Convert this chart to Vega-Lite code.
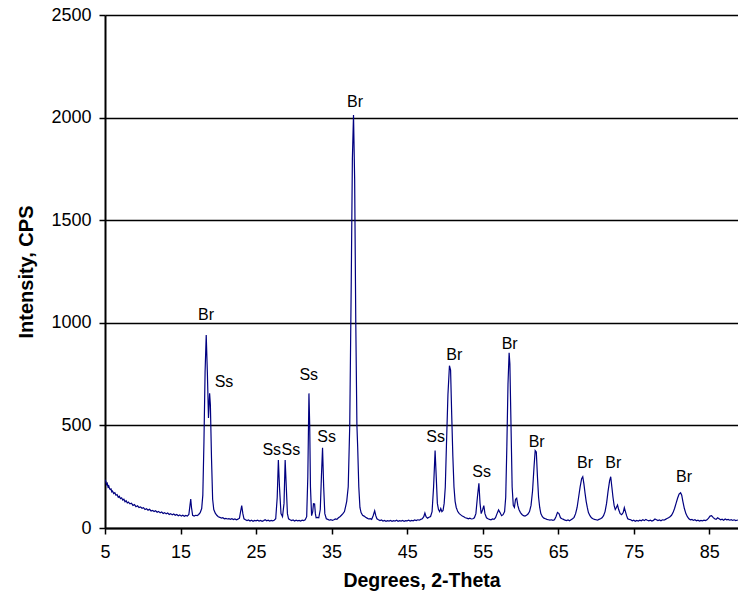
{
  "$schema": "https://vega.github.io/schema/vega-lite/v6.json",
  "autosize": {"type": "none"},
  "width": 633,
  "height": 513,
  "padding": {"left": 105, "top": 15, "right": 0, "bottom": 73},
  "background": "white",
  "config": {
    "view": {"stroke": null},
    "font": "Liberation Sans",
    "axis": {"labelFont": "Liberation Sans", "titleFont": "Liberation Sans", "labelColor": "black", "titleColor": "black", "domainColor": "black", "tickColor": "black", "labelFontSize": 18, "titleFontSize": 19.5, "titleFontWeight": "bold"}
  },
  "datasets": {
    "xrd": [
      {"deg":5.0,"cps":235},{"deg":5.1,"cps":228},{"deg":5.2,"cps":212},{"deg":5.3,"cps":218},{"deg":5.4,"cps":200},{"deg":5.5,"cps":205},{"deg":5.6,"cps":192},{"deg":5.7,"cps":188},{"deg":5.8,"cps":190},{"deg":5.9,"cps":176},{"deg":6.0,"cps":180},{"deg":6.15,"cps":168},{"deg":6.3,"cps":172},{"deg":6.45,"cps":160},{"deg":6.6,"cps":163},{"deg":6.75,"cps":150},{"deg":6.9,"cps":155},{"deg":7.05,"cps":143},{"deg":7.2,"cps":147},{"deg":7.35,"cps":136},{"deg":7.5,"cps":140},{"deg":7.65,"cps":128},{"deg":7.8,"cps":133},{"deg":7.95,"cps":122},{"deg":8.1,"cps":126},{"deg":8.3,"cps":118},{"deg":8.5,"cps":121},{"deg":8.7,"cps":110},{"deg":8.9,"cps":114},{"deg":9.1,"cps":104},{"deg":9.3,"cps":108},{"deg":9.5,"cps":100},{"deg":9.7,"cps":103},{"deg":9.9,"cps":96},{"deg":10.1,"cps":99},{"deg":10.3,"cps":90},{"deg":10.5,"cps":94},{"deg":10.7,"cps":87},{"deg":10.9,"cps":91},{"deg":11.1,"cps":83},{"deg":11.3,"cps":86},{"deg":11.5,"cps":80},{"deg":11.7,"cps":84},{"deg":11.9,"cps":77},{"deg":12.1,"cps":81},{"deg":12.3,"cps":74},{"deg":12.5,"cps":78},{"deg":12.7,"cps":71},{"deg":12.9,"cps":75},{"deg":13.1,"cps":69},{"deg":13.3,"cps":73},{"deg":13.5,"cps":66},{"deg":13.7,"cps":70},{"deg":13.9,"cps":64},{"deg":14.1,"cps":68},{"deg":14.3,"cps":62},{"deg":14.5,"cps":66},{"deg":14.7,"cps":60},{"deg":14.9,"cps":64},{"deg":15.1,"cps":58},{"deg":15.3,"cps":62},{"deg":15.5,"cps":57},{"deg":15.7,"cps":61},{"deg":15.9,"cps":58},{"deg":16.1,"cps":66},{"deg":16.25,"cps":110},{"deg":16.35,"cps":141},{"deg":16.45,"cps":100},{"deg":16.6,"cps":62},{"deg":16.8,"cps":58},{"deg":17.0,"cps":62},{"deg":17.2,"cps":60},{"deg":17.4,"cps":66},{"deg":17.6,"cps":75},{"deg":17.8,"cps":95},{"deg":17.95,"cps":160},{"deg":18.1,"cps":420},{"deg":18.25,"cps":760},{"deg":18.4,"cps":940},{"deg":18.55,"cps":760},{"deg":18.7,"cps":536},{"deg":18.85,"cps":656},{"deg":18.95,"cps":600},{"deg":19.1,"cps":340},{"deg":19.25,"cps":140},{"deg":19.4,"cps":90},{"deg":19.6,"cps":72},{"deg":19.8,"cps":62},{"deg":20.0,"cps":55},{"deg":20.2,"cps":52},{"deg":20.4,"cps":48},{"deg":20.6,"cps":50},{"deg":20.8,"cps":45},{"deg":21.0,"cps":47},{"deg":21.2,"cps":44},{"deg":21.4,"cps":46},{"deg":21.6,"cps":42},{"deg":21.8,"cps":45},{"deg":22.0,"cps":41},{"deg":22.2,"cps":44},{"deg":22.4,"cps":40},{"deg":22.6,"cps":43},{"deg":22.8,"cps":48},{"deg":22.95,"cps":80},{"deg":23.1,"cps":109},{"deg":23.25,"cps":70},{"deg":23.4,"cps":45},{"deg":23.6,"cps":40},{"deg":23.8,"cps":36},{"deg":24.0,"cps":39},{"deg":24.2,"cps":34},{"deg":24.4,"cps":38},{"deg":24.6,"cps":33},{"deg":24.8,"cps":37},{"deg":25.0,"cps":35},{"deg":25.2,"cps":38},{"deg":25.4,"cps":34},{"deg":25.6,"cps":37},{"deg":25.8,"cps":33},{"deg":26.0,"cps":36},{"deg":26.2,"cps":40},{"deg":26.4,"cps":35},{"deg":26.6,"cps":38},{"deg":26.8,"cps":34},{"deg":27.0,"cps":37},{"deg":27.2,"cps":35},{"deg":27.4,"cps":38},{"deg":27.6,"cps":45},{"deg":27.8,"cps":150},{"deg":27.95,"cps":331},{"deg":28.1,"cps":200},{"deg":28.3,"cps":70},{"deg":28.5,"cps":55},{"deg":28.7,"cps":120},{"deg":28.85,"cps":331},{"deg":29.0,"cps":200},{"deg":29.15,"cps":70},{"deg":29.3,"cps":45},{"deg":29.5,"cps":40},{"deg":29.7,"cps":36},{"deg":29.9,"cps":39},{"deg":30.1,"cps":34},{"deg":30.3,"cps":38},{"deg":30.5,"cps":35},{"deg":30.7,"cps":37},{"deg":30.9,"cps":34},{"deg":31.1,"cps":38},{"deg":31.3,"cps":36},{"deg":31.5,"cps":40},{"deg":31.7,"cps":55},{"deg":31.85,"cps":250},{"deg":32.0,"cps":656},{"deg":32.1,"cps":500},{"deg":32.2,"cps":200},{"deg":32.35,"cps":60},{"deg":32.5,"cps":80},{"deg":32.6,"cps":118},{"deg":32.75,"cps":117},{"deg":32.85,"cps":70},{"deg":32.95,"cps":50},{"deg":33.1,"cps":52},{"deg":33.3,"cps":50},{"deg":33.5,"cps":90},{"deg":33.65,"cps":250},{"deg":33.8,"cps":391},{"deg":33.95,"cps":200},{"deg":34.1,"cps":70},{"deg":34.3,"cps":45},{"deg":34.5,"cps":42},{"deg":34.7,"cps":38},{"deg":34.9,"cps":41},{"deg":35.1,"cps":37},{"deg":35.3,"cps":40},{"deg":35.5,"cps":44},{"deg":35.7,"cps":42},{"deg":35.9,"cps":50},{"deg":36.1,"cps":55},{"deg":36.3,"cps":62},{"deg":36.5,"cps":70},{"deg":36.7,"cps":80},{"deg":36.85,"cps":104},{"deg":37.0,"cps":130},{"deg":37.2,"cps":201},{"deg":37.4,"cps":500},{"deg":37.6,"cps":1200},{"deg":37.75,"cps":1800},{"deg":37.9,"cps":2013},{"deg":38.05,"cps":1700},{"deg":38.2,"cps":1000},{"deg":38.35,"cps":500},{"deg":38.45,"cps":396},{"deg":38.6,"cps":200},{"deg":38.75,"cps":100},{"deg":38.9,"cps":75},{"deg":39.1,"cps":62},{"deg":39.3,"cps":58},{"deg":39.5,"cps":52},{"deg":39.7,"cps":48},{"deg":39.9,"cps":44},{"deg":40.1,"cps":46},{"deg":40.3,"cps":42},{"deg":40.5,"cps":60},{"deg":40.7,"cps":84},{"deg":40.85,"cps":60},{"deg":41.0,"cps":45},{"deg":41.2,"cps":40},{"deg":41.4,"cps":36},{"deg":41.6,"cps":39},{"deg":41.8,"cps":34},{"deg":42.0,"cps":37},{"deg":42.2,"cps":33},{"deg":42.4,"cps":36},{"deg":42.6,"cps":34},{"deg":42.8,"cps":37},{"deg":43.0,"cps":33},{"deg":43.2,"cps":36},{"deg":43.4,"cps":34},{"deg":43.6,"cps":38},{"deg":43.8,"cps":33},{"deg":44.0,"cps":36},{"deg":44.2,"cps":34},{"deg":44.4,"cps":37},{"deg":44.6,"cps":33},{"deg":44.8,"cps":36},{"deg":45.0,"cps":35},{"deg":45.2,"cps":38},{"deg":45.4,"cps":34},{"deg":45.6,"cps":37},{"deg":45.8,"cps":35},{"deg":46.0,"cps":39},{"deg":46.2,"cps":36},{"deg":46.4,"cps":40},{"deg":46.6,"cps":38},{"deg":46.8,"cps":42},{"deg":47.0,"cps":45},{"deg":47.2,"cps":55},{"deg":47.35,"cps":73},{"deg":47.5,"cps":55},{"deg":47.7,"cps":48},{"deg":47.9,"cps":52},{"deg":48.1,"cps":56},{"deg":48.3,"cps":80},{"deg":48.5,"cps":200},{"deg":48.7,"cps":377},{"deg":48.85,"cps":250},{"deg":49.0,"cps":120},{"deg":49.15,"cps":90},{"deg":49.3,"cps":80},{"deg":49.45,"cps":95},{"deg":49.6,"cps":80},{"deg":49.75,"cps":85},{"deg":49.9,"cps":120},{"deg":50.05,"cps":200},{"deg":50.2,"cps":400},{"deg":50.4,"cps":650},{"deg":50.6,"cps":791},{"deg":50.75,"cps":770},{"deg":50.9,"cps":550},{"deg":51.05,"cps":350},{"deg":51.2,"cps":200},{"deg":51.35,"cps":130},{"deg":51.5,"cps":100},{"deg":51.7,"cps":80},{"deg":51.9,"cps":70},{"deg":52.1,"cps":64},{"deg":52.3,"cps":58},{"deg":52.5,"cps":55},{"deg":52.7,"cps":50},{"deg":52.9,"cps":48},{"deg":53.1,"cps":45},{"deg":53.3,"cps":48},{"deg":53.5,"cps":44},{"deg":53.7,"cps":45},{"deg":53.9,"cps":50},{"deg":54.1,"cps":70},{"deg":54.3,"cps":150},{"deg":54.5,"cps":218},{"deg":54.65,"cps":120},{"deg":54.8,"cps":70},{"deg":55.0,"cps":90},{"deg":55.15,"cps":109},{"deg":55.3,"cps":70},{"deg":55.5,"cps":50},{"deg":55.7,"cps":45},{"deg":55.9,"cps":42},{"deg":56.1,"cps":40},{"deg":56.3,"cps":44},{"deg":56.5,"cps":42},{"deg":56.7,"cps":50},{"deg":56.9,"cps":70},{"deg":57.1,"cps":88},{"deg":57.3,"cps":75},{"deg":57.5,"cps":60},{"deg":57.7,"cps":65},{"deg":57.9,"cps":80},{"deg":58.05,"cps":150},{"deg":58.2,"cps":400},{"deg":58.35,"cps":700},{"deg":58.5,"cps":854},{"deg":58.6,"cps":800},{"deg":58.75,"cps":500},{"deg":58.9,"cps":200},{"deg":59.05,"cps":110},{"deg":59.2,"cps":100},{"deg":59.35,"cps":140},{"deg":59.5,"cps":145},{"deg":59.65,"cps":110},{"deg":59.8,"cps":90},{"deg":60.0,"cps":75},{"deg":60.2,"cps":66},{"deg":60.4,"cps":60},{"deg":60.6,"cps":58},{"deg":60.8,"cps":62},{"deg":61.0,"cps":68},{"deg":61.2,"cps":80},{"deg":61.4,"cps":110},{"deg":61.6,"cps":180},{"deg":61.8,"cps":300},{"deg":61.95,"cps":377},{"deg":62.1,"cps":370},{"deg":62.25,"cps":250},{"deg":62.4,"cps":150},{"deg":62.55,"cps":100},{"deg":62.7,"cps":70},{"deg":62.9,"cps":55},{"deg":63.1,"cps":48},{"deg":63.3,"cps":45},{"deg":63.5,"cps":42},{"deg":63.7,"cps":40},{"deg":63.9,"cps":38},{"deg":64.1,"cps":40},{"deg":64.3,"cps":37},{"deg":64.5,"cps":40},{"deg":64.7,"cps":55},{"deg":64.9,"cps":76},{"deg":65.1,"cps":70},{"deg":65.3,"cps":50},{"deg":65.5,"cps":45},{"deg":65.7,"cps":42},{"deg":65.9,"cps":38},{"deg":66.1,"cps":36},{"deg":66.3,"cps":39},{"deg":66.5,"cps":35},{"deg":66.7,"cps":40},{"deg":66.9,"cps":45},{"deg":67.1,"cps":52},{"deg":67.3,"cps":70},{"deg":67.5,"cps":100},{"deg":67.7,"cps":150},{"deg":67.9,"cps":200},{"deg":68.1,"cps":240},{"deg":68.25,"cps":250},{"deg":68.4,"cps":215},{"deg":68.55,"cps":170},{"deg":68.7,"cps":130},{"deg":68.85,"cps":100},{"deg":69.0,"cps":75},{"deg":69.2,"cps":60},{"deg":69.4,"cps":50},{"deg":69.6,"cps":45},{"deg":69.8,"cps":42},{"deg":70.0,"cps":40},{"deg":70.2,"cps":38},{"deg":70.4,"cps":42},{"deg":70.6,"cps":45},{"deg":70.8,"cps":50},{"deg":71.0,"cps":60},{"deg":71.2,"cps":80},{"deg":71.4,"cps":120},{"deg":71.6,"cps":180},{"deg":71.8,"cps":230},{"deg":71.95,"cps":250},{"deg":72.1,"cps":200},{"deg":72.25,"cps":150},{"deg":72.4,"cps":110},{"deg":72.55,"cps":90},{"deg":72.7,"cps":100},{"deg":72.85,"cps":112},{"deg":73.0,"cps":90},{"deg":73.2,"cps":70},{"deg":73.4,"cps":65},{"deg":73.6,"cps":75},{"deg":73.75,"cps":99},{"deg":73.9,"cps":80},{"deg":74.05,"cps":60},{"deg":74.2,"cps":45},{"deg":74.4,"cps":42},{"deg":74.6,"cps":40},{"deg":74.8,"cps":35},{"deg":75.0,"cps":38},{"deg":75.2,"cps":33},{"deg":75.4,"cps":37},{"deg":75.6,"cps":34},{"deg":75.8,"cps":38},{"deg":76.0,"cps":35},{"deg":76.2,"cps":40},{"deg":76.4,"cps":36},{"deg":76.6,"cps":42},{"deg":76.8,"cps":38},{"deg":77.0,"cps":35},{"deg":77.2,"cps":38},{"deg":77.4,"cps":34},{"deg":77.6,"cps":37},{"deg":77.8,"cps":44},{"deg":78.0,"cps":40},{"deg":78.2,"cps":36},{"deg":78.4,"cps":39},{"deg":78.6,"cps":35},{"deg":78.8,"cps":40},{"deg":79.0,"cps":38},{"deg":79.2,"cps":42},{"deg":79.4,"cps":46},{"deg":79.6,"cps":50},{"deg":79.8,"cps":55},{"deg":80.0,"cps":62},{"deg":80.2,"cps":75},{"deg":80.4,"cps":95},{"deg":80.6,"cps":120},{"deg":80.8,"cps":145},{"deg":81.0,"cps":165},{"deg":81.2,"cps":172},{"deg":81.35,"cps":160},{"deg":81.5,"cps":130},{"deg":81.7,"cps":95},{"deg":81.9,"cps":70},{"deg":82.1,"cps":55},{"deg":82.3,"cps":45},{"deg":82.5,"cps":40},{"deg":82.7,"cps":42},{"deg":82.9,"cps":37},{"deg":83.1,"cps":40},{"deg":83.3,"cps":35},{"deg":83.5,"cps":38},{"deg":83.7,"cps":34},{"deg":83.9,"cps":37},{"deg":84.1,"cps":35},{"deg":84.3,"cps":38},{"deg":84.5,"cps":36},{"deg":84.7,"cps":40},{"deg":84.9,"cps":48},{"deg":85.1,"cps":58},{"deg":85.3,"cps":60},{"deg":85.5,"cps":52},{"deg":85.7,"cps":45},{"deg":85.9,"cps":42},{"deg":86.1,"cps":50},{"deg":86.3,"cps":45},{"deg":86.5,"cps":40},{"deg":86.7,"cps":43},{"deg":86.9,"cps":38},{"deg":87.1,"cps":44},{"deg":87.3,"cps":40},{"deg":87.5,"cps":42},{"deg":87.7,"cps":38},{"deg":87.9,"cps":41},{"deg":88.1,"cps":37},{"deg":88.3,"cps":40},{"deg":88.5,"cps":36},{"deg":88.8,"cps":39}
    ],
    "labels": [
      {"deg":18.37,"cps":1038,"phase":"Br"},
      {"deg":20.75,"cps":713,"phase":"Ss"},
      {"deg":27.07,"cps":380,"phase":"Ss"},
      {"deg":29.6,"cps":380,"phase":"Ss"},
      {"deg":31.97,"cps":744,"phase":"Ss"},
      {"deg":34.35,"cps":445,"phase":"Ss"},
      {"deg":38.1,"cps":2077,"phase":"Br"},
      {"deg":48.78,"cps":442,"phase":"Ss"},
      {"deg":51.24,"cps":843,"phase":"Br"},
      {"deg":54.87,"cps":274,"phase":"Ss"},
      {"deg":58.57,"cps":897,"phase":"Br"},
      {"deg":62.15,"cps":421,"phase":"Br"},
      {"deg":68.54,"cps":318,"phase":"Br"},
      {"deg":72.29,"cps":318,"phase":"Br"},
      {"deg":81.65,"cps":250,"phase":"Br"}
    ]
  },
  "layer": [
    {
      "data": {"name": "xrd"},
      "mark": {"type": "line", "color": "#000080", "strokeWidth": 1.2, "clip": true},
      "encoding": {
        "x": {
          "field": "deg", "type": "quantitative",
          "scale": {"domain": [5, 88.8], "nice": false, "zero": false},
          "axis": {"title": "Degrees, 2-Theta", "values": [5,15,25,35,45,55,65,75,85], "format": "d", "grid": false, "domainWidth": 2, "tickWidth": 1.5, "tickSize": 6, "labelPadding": 9, "titlePadding": 10, "labelFlush": false}
        },
        "y": {
          "field": "cps", "type": "quantitative",
          "scale": {"domain": [0, 2500], "nice": false},
          "axis": {"title": "Intensity, CPS", "values": [0,500,1000,1500,2000,2500], "format": "d", "grid": true, "gridColor": "black", "gridWidth": 1.6, "gridOpacity": 1, "domainWidth": 2, "tickWidth": 1.5, "tickSize": 6, "labelPadding": 8, "titlePadding": 14, "titleFontSize": 20}
        }
      }
    },
    {
      "data": {"name": "labels"},
      "mark": {"type": "text", "fontSize": 16, "font": "Liberation Sans", "color": "black", "baseline": "middle", "align": "center"},
      "encoding": {
        "x": {"field": "deg", "type": "quantitative"},
        "y": {"field": "cps", "type": "quantitative"},
        "text": {"field": "phase"}
      }
    }
  ]
}
